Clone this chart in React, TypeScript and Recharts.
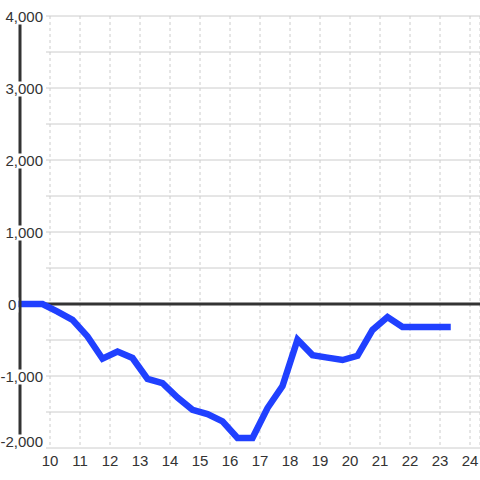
import { LineChart, Line, XAxis, YAxis, CartesianGrid, ReferenceLine } from 'recharts';

const hours = [
  9, 9.75, 10.25, 10.75, 11.25, 11.75, 12.25, 12.75, 13.25, 13.75, 14.25, 14.75, 15.25, 15.75,
  16.25, 16.75, 17.25, 17.75, 18.25, 18.75, 19.25, 19.75, 20.25, 20.75, 21.25, 21.75, 22.25,
  22.75, 23.25,
];
const balance = [
  0, 0, -105, -220, -450, -760, -660, -750, -1040, -1100, -1300, -1470, -1530, -1630,
  -1860, -1860, -1445, -1140, -495, -710, -745, -778, -720, -360, -180, -320, -320,
  -320, -320,
];
const xTicks = [10, 11, 12, 13, 14, 15, 16, 17, 18, 19, 20, 21, 22, 23, 24];
const yTicks = [-2000, -1500, -1000, -500, 0, 500, 1000, 1500, 2000, 2500, 3000, 3500, 4000];
const yLabelled = [-2000, -1000, 0, 1000, 2000, 3000, 4000];

const data = hours.map((h, i) => ({ h, v: balance[i] }));

const FONT = '"Liberation Sans", Arial, sans-serif';
const FS = 15;
const TEXT = '#333';

// rough advance widths for Liberation Sans, used only for the label backdrops
function textWidth(s: string) {
  let w = 0;
  for (const c of s) w += c === ',' ? 0.278 : c === '-' ? 0.333 : 0.556;
  return w * FS;
}

function YTick({ x, y, payload }: any) {
  const v = payload.value as number;
  if (!yLabelled.includes(v)) return null;
  const label = v.toLocaleString('en-US').replace('\u2212', '-');
  const w = textWidth(label);
  const shift = v === -2000 ? -6 : 1;
  const cy = y + shift;
  // zero sits on the left edge, the rest are right-aligned against the grid
  const left = v === 0 ? x - 12 : x + 23 - w;
  return (
    <g>
      <rect x={left - 2} y={cy - 7.5} width={w + 4} height={15} fill="#fff" />
      <text x={left} y={cy} dy="0.355em" textAnchor="start" fill={TEXT} fontSize={FS} fontFamily={FONT}>
        {label}
      </text>
    </g>
  );
}

function XTick({ x, y, payload }: any) {
  return (
    <text x={x} y={y} dy="0.71em" textAnchor="middle" fill={TEXT} fontSize={FS} fontFamily={FONT}>
      {payload.value}
    </text>
  );
}

export default function App() {
  return (
    <div style={{ position: 'fixed', left: 0, top: 0, width: 480, height: 480, background: '#fff' }}>
      <LineChart width={480} height={480} data={data} margin={{ top: 16, right: 0, bottom: 0, left: 0 }}>
        <CartesianGrid horizontal vertical={false} stroke="#ccc" x={46} width={434} />
        <CartesianGrid horizontal={false} vertical stroke="#ccc" strokeDasharray="3 3" />
        <XAxis
          dataKey="h"
          type="number"
          domain={[9, 73 / 3]}
          ticks={xTicks}
          interval={0}
          axisLine={false}
          tickLine={false}
          tickSize={0}
          tickMargin={7}
          height={32}
          tick={<XTick />}
        />
        <YAxis
          type="number"
          domain={[-2000, 4000]}
          ticks={yTicks}
          interval={0}
          width={20}
          axisLine={{ stroke: '#333', strokeWidth: 3 }}
          tickLine={false}
          tickSize={0}
          tickMargin={0}
          tick={<YTick />}
        />
        <ReferenceLine y={0} stroke="#333" strokeWidth={3} />
        <Line
          dataKey="v"
          type="linear"
          stroke="#2040ff"
          strokeWidth={6.5}
          strokeLinecap="square"
          dot={false}
          activeDot={false}
          isAnimationActive={false}
        />
      </LineChart>
    </div>
  );
}
